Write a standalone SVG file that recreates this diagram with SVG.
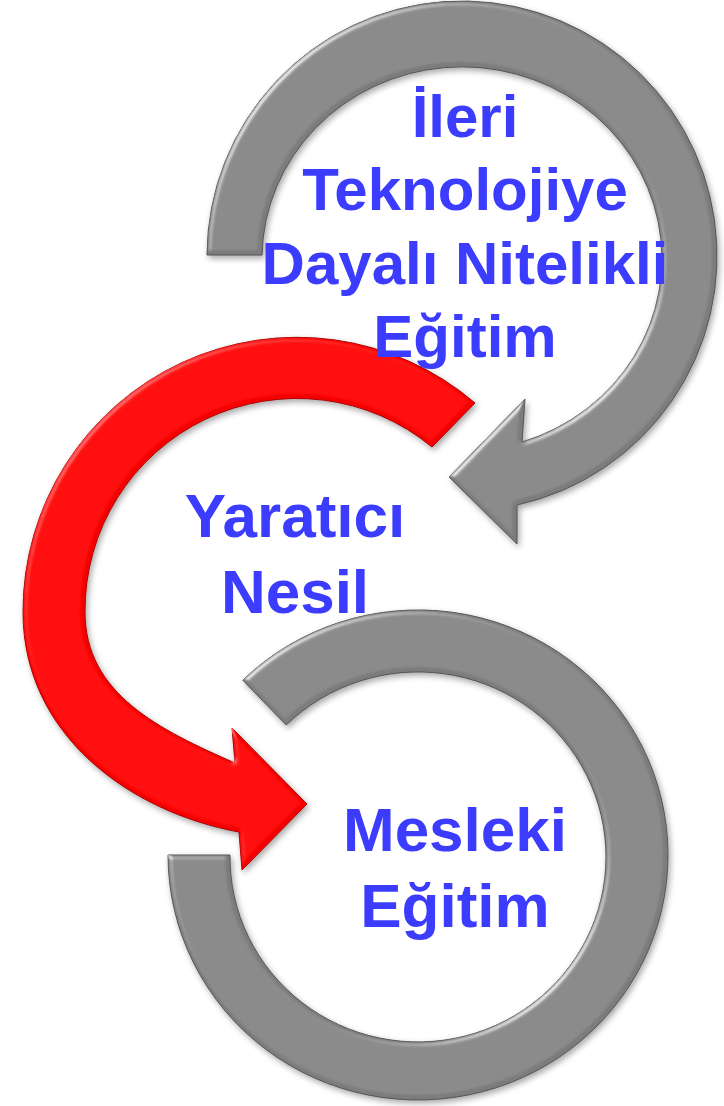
<svg xmlns="http://www.w3.org/2000/svg" width="724" height="1106" viewBox="0 0 724 1106">
<style>
.lbl{font-family:"Liberation Sans",Arial,sans-serif;font-weight:bold;fill:#3c3cff;text-anchor:middle}
.top{font-size:60px}
.low{font-size:62px}
.gray{fill:#7c7c7c;stroke:#555555;stroke-width:1}
.red{fill:#f40000;stroke:#b00000;stroke-width:1}
</style>
<defs>
<filter id="bev" x="-8%" y="-8%" width="118%" height="118%" color-interpolation-filters="sRGB">
<feGaussianBlur in="SourceAlpha" stdDeviation="2.5" result="blur"/>
<feSpecularLighting in="blur" surfaceScale="3" specularConstant="1" specularExponent="16" lighting-color="#ffffff" result="spec">
<feDistantLight azimuth="225" elevation="35"/>
</feSpecularLighting>
<feComposite in="spec" in2="SourceAlpha" operator="in" result="specIn"/>
<feComposite in="SourceGraphic" in2="specIn" operator="arithmetic" k1="0" k2="1" k3="0.4" k4="0" result="lit"/>
<feGaussianBlur in="SourceAlpha" stdDeviation="3" result="sb"/>
<feOffset in="sb" dx="2" dy="3" result="so"/>
<feComponentTransfer in="so" result="sh"><feFuncA type="linear" slope="0.35"/></feComponentTransfer>
<feMerge><feMergeNode in="sh"/><feMergeNode in="lit"/></feMerge>
</filter>
</defs>
<rect width="724" height="1106" fill="#ffffff"/>
<g id="connectors">
<path id="arrow-top" class="gray" filter="url(#bev)" d="M 207 255 A 255 255 0 1 1 517 505 L 517 544 L 449 477 L 525 399 L 522 442 A 200 192 0 1 0 262 255 Z"/>
<path id="arrow-red" class="red" filter="url(#bev)" d="M 475 403 A 274 274 0 0 0 23 612 C 23 735 130 812 239 832 L 242 870 L 307 804 L 232 728 L 235 763 C 160 730 85 694 85 612 A 212 212 0 0 1 432 447 Z"/>
<path id="arrow-bottom" class="gray" filter="url(#bev)" d="M 242.8 680.2 A 250 245 0 1 1 168 855 L 230 855 A 188 185 0 1 0 286.2 725 Z"/>
</g>
<g id="node-ileri">
<text class="lbl top" x="465" y="137">İleri</text>
<text class="lbl top" x="465" y="210">Teknolojiye</text>
<text class="lbl top" x="465" y="284">Dayalı Nitelikli</text>
<text class="lbl top" x="465" y="357">Eğitim</text>
</g>
<g id="node-yaratici">
<text class="lbl low" x="295" y="537">Yaratıcı</text>
<text class="lbl low" x="295" y="613">Nesil</text>
</g>
<g id="node-mesleki">
<text class="lbl low" x="455" y="851">Mesleki</text>
<text class="lbl low" x="455" y="927">Eğitim</text>
</g>
</svg>
